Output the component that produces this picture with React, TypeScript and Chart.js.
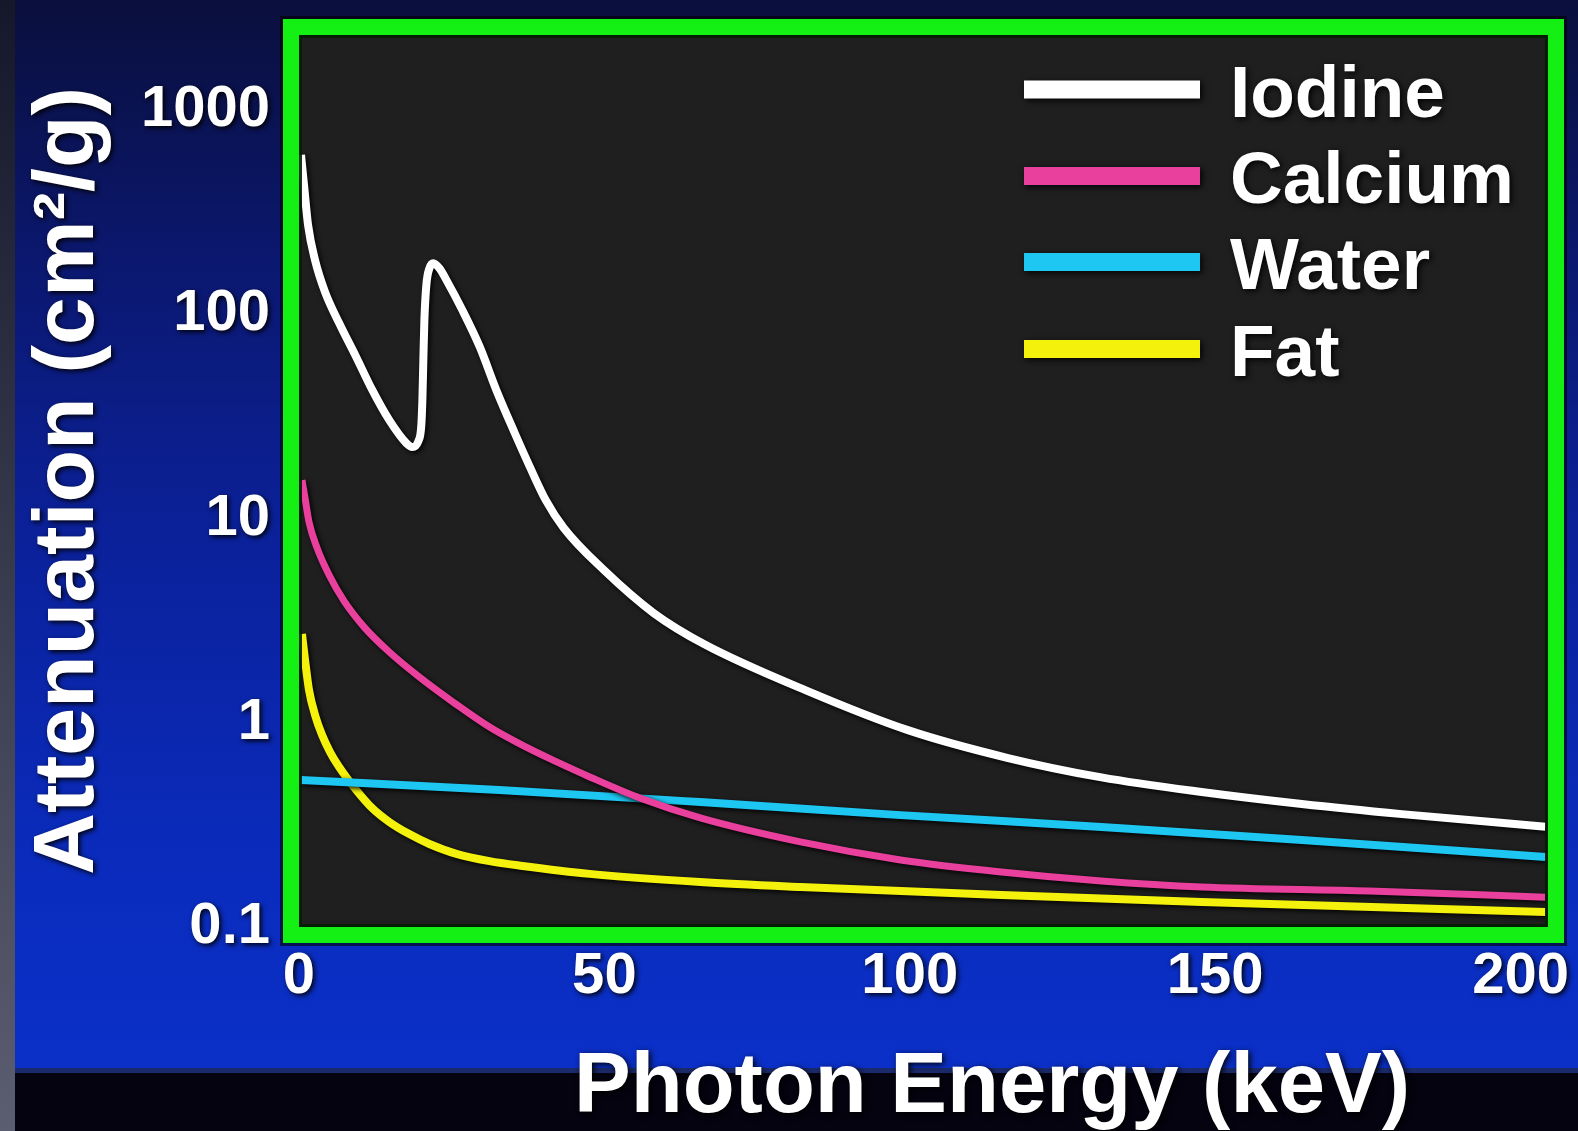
import React, { useEffect, useRef } from "react";
import { Chart, registerables } from "chart.js";

Chart.register(...registerables);

const FONT = '"Liberation Sans", Arial, sans-serif';

const seriesNames = ["Iodine", "Calcium", "Water", "Fat"];
const seriesColors = ["#ffffff", "#e8409c", "#1ec6f2", "#f4f20c"];
const seriesWidths = [8, 7, 8, 8];

const iodineKeV = [0.33, 0.82, 1.48, 2.63, 4.27, 6.57, 9.36, 11.99, 14.78, 17.57, 18.55, 19.54, 20.03, 20.2, 20.36, 20.53, 20.85, 21.35, 22.0, 22.99, 24.14, 26.8, 29.6, 32.3, 35.3, 37.8, 40.4, 43.35, 49.9, 58.1, 66.3, 82.9, 99.7, 116.1, 131.4, 147.8, 164.2, 180.6, 204.1];
const iodineAtt = [603, 430, 274, 184, 128.5, 90.6, 61.8, 42.6, 30.3, 23.4, 22.4, 23.9, 28.7, 38.0, 59.7, 93.8, 139, 168, 178, 168, 147, 104, 69.2, 42.6, 26.3, 17.9, 12.3, 8.99, 5.6, 3.44, 2.43, 1.445, 0.92, 0.672, 0.54, 0.458, 0.4, 0.357, 0.31];

const calciumKeV = [0.49, 0.99, 1.64, 2.96, 4.93, 7.39, 10.67, 14.78, 19.7, 25.45, 31.2, 37.77, 42.2, 47.6, 55.8, 65.7, 82.1, 98.5, 115, 131.4, 147.8, 175.2, 204.1];
const calciumAtt = [15.4, 12.6, 9.62, 7.18, 5.29, 3.94, 2.94, 2.22, 1.675, 1.249, 0.953, 0.744, 0.643, 0.543, 0.428, 0.342, 0.261, 0.213, 0.186, 0.168, 0.157, 0.15, 0.14];

const waterKeV = [0.3, 32.8, 65.7, 98.5, 131.4, 164.2, 204.1];
const waterAtt = [0.524, 0.469, 0.409, 0.353, 0.309, 0.267, 0.22];

const fatKeV = [0.49, 0.99, 1.64, 2.63, 3.78, 5.09, 6.57, 9.36, 11.99, 14.78, 18.06, 21.35, 25.78, 31.2, 36.6, 47.6, 65.7, 82.1, 115, 147.8, 204.1];
const fatAtt = [2.72, 2.03, 1.446, 1.091, 0.871, 0.719, 0.607, 0.469, 0.382, 0.327, 0.285, 0.255, 0.228, 0.21, 0.199, 0.182, 0.166, 0.157, 0.1434, 0.1325, 0.1184];

const xTickValues = [0, 50, 100, 150, 200];
const yTickValues = [0.1, 1, 10, 100, 1000];
const yTickLabels = ["0.1", "1", "10", "100", "1000"];

const xTitle = "Photon Energy (keV)";
const yTitle = "Attenuation (cm²/g)";

const seriesX = [iodineKeV, calciumKeV, waterKeV, fatKeV];
const seriesY = [iodineAtt, calciumAtt, waterAtt, fatAtt];

const decorPlugin = {
  id: "decor",
  beforeDraw(chart: any) {
    const { ctx, width, height, chartArea: ca } = chart;
    ctx.save();
    const g = ctx.createLinearGradient(0, 0, 0, 1072);
    g.addColorStop(0, "#0a0f3c");
    g.addColorStop(0.25, "#0b1870");
    g.addColorStop(0.5, "#0b219a");
    g.addColorStop(0.8, "#0a2bbc");
    g.addColorStop(1, "#0b30c8");
    ctx.fillStyle = g;
    ctx.fillRect(0, 0, width, 1072);
    ctx.fillStyle = "#1b2a6a";
    ctx.fillRect(0, 1068, width, 5);
    ctx.fillStyle = "#04030f";
    ctx.fillRect(0, 1073, width, height - 1073);
    const g2 = ctx.createLinearGradient(0, 0, 0, height);
    g2.addColorStop(0, "#15172a");
    g2.addColorStop(1, "#5a5e70");
    ctx.fillStyle = g2;
    ctx.fillRect(0, 0, 15, height);
    ctx.fillStyle = "#1f1f1f";
    ctx.fillRect(ca.left, ca.top, ca.right - ca.left, ca.bottom - ca.top);
    ctx.restore();
    ctx.shadowColor = "rgba(0,0,0,0.95)";
    ctx.shadowBlur = 5;
    ctx.shadowOffsetX = 2;
    ctx.shadowOffsetY = 2;
  },
  afterDatasetsDraw(chart: any) {
    const { ctx, chartArea: ca } = chart;
    ctx.save();
    ctx.shadowColor = "rgba(0,0,0,0)";
    ctx.strokeStyle = "#14f014";
    ctx.lineWidth = 16;
    ctx.strokeRect(ca.left - 8, ca.top - 8, ca.right - ca.left + 16, ca.bottom - ca.top + 16);
    ctx.strokeStyle = "rgba(0,30,0,0.9)";
    ctx.lineWidth = 3;
    ctx.strokeRect(ca.left + 1.5, ca.top + 1.5, ca.right - ca.left - 3, ca.bottom - ca.top - 3);
    ctx.strokeStyle = "rgba(0,0,0,0.6)";
    ctx.lineWidth = 3;
    ctx.strokeRect(ca.left - 17.5, ca.top - 17.5, ca.right - ca.left + 35, ca.bottom - ca.top + 35);
    ctx.restore();
  },
  afterDraw(chart: any) {
    const { ctx } = chart;
    const barCenters = [89.5, 176, 262, 349];
    ctx.save();
    ctx.shadowColor = "rgba(0,0,0,0.95)";
    ctx.shadowBlur = 6;
    ctx.shadowOffsetX = 2;
    ctx.shadowOffsetY = 2;
    chart.data.datasets.forEach((ds: any, i: number) => {
      ctx.fillStyle = ds.borderColor;
      ctx.fillRect(1024, barCenters[i] - 9, 176, 18);
      ctx.fillStyle = "#ffffff";
      ctx.font = `bold 73px ${FONT}`;
      ctx.textAlign = "left";
      ctx.textBaseline = "alphabetic";
      ctx.fillText(ds.label, 1230, barCenters[i] + 27);
    });
    ctx.font = `bold 85px ${FONT}`;
    ctx.textAlign = "center";
    ctx.textBaseline = "alphabetic";
    ctx.fillStyle = "#ffffff";
    ctx.fillText(xTitle, 992, 1112);
    ctx.restore();
  },
};

export default function App() {
  const ref = useRef<HTMLCanvasElement | null>(null);
  useEffect(() => {
    if (!ref.current) return;
    const datasets = seriesNames.map((name, i) => ({
      label: name,
      data: seriesX[i].map((x, j) => ({ x, y: seriesY[i][j] })),
      borderColor: seriesColors[i],
      backgroundColor: seriesColors[i],
      borderWidth: seriesWidths[i],
      pointRadius: 0,
      cubicInterpolationMode: "monotone" as const,
      fill: false,
    }));
    const chart = new Chart(ref.current, {
      type: "line",
      data: { datasets },
      options: {
        animation: false,
        responsive: false,
        devicePixelRatio: 1,
        layout: { padding: { top: 35, right: 30, bottom: 0, left: 0 } },
        plugins: { legend: { display: false }, tooltip: { enabled: false } },
        scales: {
          x: {
            type: "linear",
            min: 0,
            max: 204.5,
            position: "bottom",
            afterBuildTicks: (s: any) => {
              s.ticks = xTickValues.map((v) => ({ value: v }));
            },
            afterFit: (s: any) => {
              s.height = 204;
              s.paddingLeft = 0;
              s.paddingRight = 0;
            },
            grid: { display: false, drawTicks: false },
            border: { display: false },
            ticks: {
              color: "#ffffff",
              padding: 15,
              maxRotation: 0,
              font: { family: FONT, size: 58, weight: "bold" },
              callback: (v: any) => String(v),
            },
          },
          y: {
            type: "logarithmic",
            min: 0.1,
            max: 2330,
            position: "left",
            afterBuildTicks: (s: any) => {
              s.ticks = yTickValues.map((v) => ({ value: v }));
            },
            afterFit: (s: any) => {
              s.width = 299;
              s.paddingTop = 0;
              s.paddingBottom = 0;
            },
            grid: { display: false, drawTicks: false },
            border: { display: false },
            ticks: {
              color: "#ffffff",
              padding: 29,
              font: { family: FONT, size: 58, weight: "bold" },
              callback: (_v: any, i: number) => yTickLabels[i],
            },
            title: {
              display: true,
              text: yTitle,
              color: "#ffffff",
              padding: { top: 26, bottom: 0 },
              font: { family: FONT, size: 86, weight: "bold", lineHeight: 1 },
            },
          },
        },
      },
      plugins: [decorPlugin],
    });
    return () => chart.destroy();
  }, []);
  return (
    <div style={{ position: "fixed", left: 0, top: 0, width: 1578, height: 1131 }}>
      <canvas ref={ref} width={1578} height={1131} style={{ width: 1578, height: 1131, display: "block" }} />
    </div>
  );
}
